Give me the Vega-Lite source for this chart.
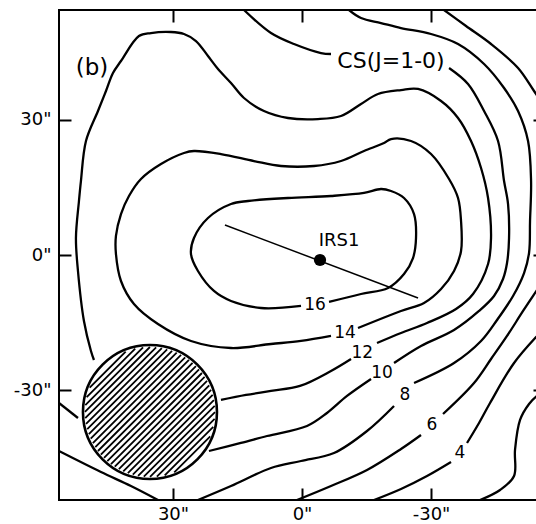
{
"$schema":"https://vega.github.io/schema/vega-lite/v6.json",
"width":486,"height":490,
"padding":{"left":13,"top":9,"right":0,"bottom":0},
"config":{"view":{"stroke":"black","strokeWidth":2},"axis":{"domain":false,"grid":false,"ticks":true,"tickColor":"black","tickWidth":2,"tickSize":-12,"labelFont":"DejaVu Sans","labelFontSize":18,"labelColor":"black"}},
"datasets":{
"contours":[
{"seg":"c12a","x":48.37,"y":-23.31},{"seg":"c12a","x":49.07,"y":-21.31},{"seg":"c12a","x":50.70,"y":-14.65},{"seg":"c12a","x":52.09,"y":-3.55},{"seg":"c12a","x":52.56,"y":3.77},{"seg":"c12a","x":51.86,"y":11.99},{"seg":"c12a","x":51.40,"y":16.43},{"seg":"c12a","x":50.23,"y":25.31},{"seg":"c12a","x":47.44,"y":31.97},{"seg":"c12a","x":45.58,"y":36.41},{"seg":"c12a","x":43.95,"y":40.41},{"seg":"c12a","x":42.09,"y":43.07},{"seg":"c12a","x":37.91,"y":48.62},{"seg":"c12a","x":35.12,"y":49.29},{"seg":"c12a","x":30.47,"y":49.51},{"seg":"c12a","x":27.44,"y":49.07},{"seg":"c12a","x":24.65,"y":47.51},{"seg":"c12a","x":21.86,"y":44.18},{"seg":"c12a","x":19.53,"y":41.30},{"seg":"c12a","x":16.51,"y":38.19},{"seg":"c12a","x":13.49,"y":34.86},{"seg":"c12a","x":8.84,"y":31.97},{"seg":"c12a","x":3.26,"y":30.42},{"seg":"c12a","x":-3.72,"y":30.19},{"seg":"c12a","x":-9.07,"y":30.86},{"seg":"c12a","x":-13.72,"y":33.52},{"seg":"c12a","x":-17.67,"y":35.75},{"seg":"c12a","x":-23.02,"y":36.63},{"seg":"c12a","x":-26.98,"y":36.86},{"seg":"c12a","x":-32.33,"y":34.19},{"seg":"c12a","x":-36.28,"y":30.42},{"seg":"c12a","x":-39.30,"y":25.31},{"seg":"c12a","x":-41.63,"y":19.32},{"seg":"c12a","x":-43.26,"y":12.66},{"seg":"c12a","x":-43.95,"y":3.77},{"seg":"c12a","x":-43.26,"y":-2.00},{"seg":"c12a","x":-39.77,"y":-8.66},{"seg":"c12a","x":-35.81,"y":-11.99},{"seg":"c12a","x":-29.07,"y":-15.10},{"seg":"c12a","x":-23.02,"y":-17.32},{"seg":"c12a","x":-17.44,"y":-19.54},
{"seg":"c12b","x":-11.40,"y":-23.09},{"seg":"c12b","x":-6.74,"y":-25.75},{"seg":"c12b","x":0.47,"y":-29.08},{"seg":"c12b","x":7.21,"y":-30.19},{"seg":"c12b","x":13.02,"y":-31.08},{"seg":"c12b","x":18.84,"y":-32.19},
{"seg":"c14","x":-13.02,"y":-16.21},{"seg":"c14","x":-23.02,"y":-12.43},{"seg":"c14","x":-28.37,"y":-10.66},{"seg":"c14","x":-32.33,"y":-7.55},{"seg":"c14","x":-35.35,"y":-3.55},{"seg":"c14","x":-36.98,"y":0.89},{"seg":"c14","x":-36.98,"y":7.55},{"seg":"c14","x":-36.28,"y":12.66},{"seg":"c14","x":-34.19,"y":16.87},{"seg":"c14","x":-30.00,"y":22.42},{"seg":"c14","x":-25.35,"y":25.31},{"seg":"c14","x":-20.70,"y":25.75},{"seg":"c14","x":-19.07,"y":24.87},{"seg":"c14","x":-14.42,"y":23.09},{"seg":"c14","x":-9.07,"y":20.87},{"seg":"c14","x":-2.79,"y":19.76},{"seg":"c14","x":4.88,"y":19.76},{"seg":"c14","x":11.16,"y":20.87},{"seg":"c14","x":18.84,"y":22.42},{"seg":"c14","x":25.12,"y":23.09},{"seg":"c14","x":27.44,"y":22.65},{"seg":"c14","x":32.79,"y":20.20},{"seg":"c14","x":37.44,"y":16.87},{"seg":"c14","x":40.23,"y":13.10},{"seg":"c14","x":42.09,"y":9.10},{"seg":"c14","x":43.26,"y":4.22},{"seg":"c14","x":43.26,"y":0.22},{"seg":"c14","x":42.09,"y":-5.77},{"seg":"c14","x":39.07,"y":-10.88},{"seg":"c14","x":33.49,"y":-15.32},{"seg":"c14","x":25.81,"y":-19.09},{"seg":"c14","x":16.51,"y":-20.65},{"seg":"c14","x":7.21,"y":-19.76},{"seg":"c14","x":0.23,"y":-19.09},{"seg":"c14","x":-6.74,"y":-17.98},
{"seg":"c16","x":-6.28,"y":-10.43},{"seg":"c16","x":-13.72,"y":-8.66},{"seg":"c16","x":-20.00,"y":-7.33},{"seg":"c16","x":-23.72,"y":-4.22},{"seg":"c16","x":-25.81,"y":-0.67},{"seg":"c16","x":-26.51,"y":3.77},{"seg":"c16","x":-26.05,"y":9.10},{"seg":"c16","x":-23.72,"y":12.66},{"seg":"c16","x":-20.70,"y":14.21},{"seg":"c16","x":-18.37,"y":14.65},{"seg":"c16","x":-14.42,"y":13.77},{"seg":"c16","x":-6.74,"y":13.10},{"seg":"c16","x":3.26,"y":12.66},{"seg":"c16","x":12.56,"y":11.99},{"seg":"c16","x":16.51,"y":11.32},{"seg":"c16","x":21.86,"y":8.21},{"seg":"c16","x":25.12,"y":3.77},{"seg":"c16","x":25.81,"y":0.22},{"seg":"c16","x":24.19,"y":-3.55},{"seg":"c16","x":20.47,"y":-7.99},{"seg":"c16","x":16.51,"y":-10.21},{"seg":"c16","x":9.53,"y":-11.77},{"seg":"c16","x":0.23,"y":-11.32},
{"seg":"c10a","x":56.51,"y":-32.86},{"seg":"c10a","x":52.09,"y":-36.19},
{"seg":"c10b","x":21.63,"y":-43.52},{"seg":"c10b","x":14.19,"y":-41.74},{"seg":"c10b","x":8.14,"y":-40.19},{"seg":"c10b","x":-1.16,"y":-37.97},{"seg":"c10b","x":-5.81,"y":-35.08},{"seg":"c10b","x":-10.47,"y":-31.30},{"seg":"c10b","x":-16.05,"y":-27.53},
{"seg":"c10c","x":-21.40,"y":-23.98},{"seg":"c10c","x":-27.67,"y":-20.20},{"seg":"c10c","x":-35.35,"y":-16.65},{"seg":"c10c","x":-41.16,"y":-12.43},{"seg":"c10c","x":-44.65,"y":-9.10},{"seg":"c10c","x":-46.74,"y":-5.33},{"seg":"c10c","x":-47.67,"y":-1.78},{"seg":"c10c","x":-48.14,"y":3.77},{"seg":"c10c","x":-47.91,"y":11.32},{"seg":"c10c","x":-46.98,"y":16.43},{"seg":"c10c","x":-45.58,"y":25.31},{"seg":"c10c","x":-42.33,"y":31.97},{"seg":"c10c","x":-38.60,"y":37.97},{"seg":"c10c","x":-34.19,"y":41.52},
{"seg":"c10d","x":-6.74,"y":44.63},{"seg":"c10d","x":-4.42,"y":44.85},{"seg":"c10d","x":1.86,"y":46.85},{"seg":"c10d","x":7.21,"y":49.29},{"seg":"c10d","x":13.49,"y":54.4},
{"seg":"c8a","x":56.51,"y":-43.52},{"seg":"c8a","x":46.74,"y":-48.18},{"seg":"c8a","x":39.77,"y":-51.29},{"seg":"c8a","x":33.49,"y":-54.4},
{"seg":"c8b","x":24.19,"y":-54.4},{"seg":"c8b","x":16.51,"y":-51.29},{"seg":"c8b","x":7.21,"y":-47.29},{"seg":"c8b","x":0.23,"y":-45.74},{"seg":"c8b","x":-7.44,"y":-43.96},{"seg":"c8b","x":-15.12,"y":-39.08},{"seg":"c8b","x":-21.40,"y":-33.52},
{"seg":"c8c","x":-26.05,"y":-28.42},{"seg":"c8c","x":-35.35,"y":-23.98},{"seg":"c8c","x":-41.63,"y":-19.09},{"seg":"c8c","x":-45.35,"y":-14.43},{"seg":"c8c","x":-49.07,"y":-9.10},{"seg":"c8c","x":-51.63,"y":-4.00},{"seg":"c8c","x":-52.79,"y":0.44},{"seg":"c8c","x":-53.02,"y":7.55},{"seg":"c8c","x":-53.26,"y":16.43},{"seg":"c8c","x":-52.56,"y":25.31},{"seg":"c8c","x":-50.23,"y":31.97},{"seg":"c8c","x":-46.98,"y":37.08},{"seg":"c8c","x":-42.33,"y":42.41},{"seg":"c8c","x":-36.28,"y":46.85},{"seg":"c8c","x":-30.00,"y":49.07},{"seg":"c8c","x":-23.02,"y":50.40},{"seg":"c8c","x":-18.37,"y":51.51},{"seg":"c8c","x":-13.72,"y":52.62},{"seg":"c8c","x":-10.93,"y":54.4},
{"seg":"c6a","x":1.16,"y":-54.4},{"seg":"c6a","x":-6.74,"y":-51.29},{"seg":"c6a","x":-15.12,"y":-47.73},{"seg":"c6a","x":-23.02,"y":-43.07},{"seg":"c6a","x":-27.67,"y":-39.96},
{"seg":"c6b","x":-32.79,"y":-35.30},{"seg":"c6b","x":-40.00,"y":-28.42},{"seg":"c6b","x":-43.95,"y":-23.09},{"seg":"c6b","x":-47.67,"y":-17.98},{"seg":"c6b","x":-51.40,"y":-12.43},{"seg":"c6b","x":-54.65,"y":-7.77},{"seg":"c6b","x":-56.51,"y":-5.11},
{"seg":"c6c","x":-33.02,"y":54.4},{"seg":"c6c","x":-38.14,"y":50.84},{"seg":"c6c","x":-43.95,"y":46.85},{"seg":"c6c","x":-50.23,"y":41.52},{"seg":"c6c","x":-53.95,"y":36.41},{"seg":"c6c","x":-56.51,"y":32.86},
{"seg":"c4a","x":-16.74,"y":-54.4},{"seg":"c4a","x":-23.02,"y":-51.95},{"seg":"c4a","x":-29.07,"y":-49.07},{"seg":"c4a","x":-34.65,"y":-45.96},
{"seg":"c4b","x":-38.37,"y":-41.74},{"seg":"c4b","x":-41.16,"y":-37.30},{"seg":"c4b","x":-43.72,"y":-32.86},{"seg":"c4b","x":-49.30,"y":-23.98},{"seg":"c4b","x":-54.65,"y":-17.98},{"seg":"c4b","x":-56.51,"y":-16.21},
{"seg":"c2","x":-41.40,"y":-54.4},{"seg":"c2","x":-46.05,"y":-52.17},{"seg":"c2","x":-49.30,"y":-49.07},{"seg":"c2","x":-49.53,"y":-43.29},{"seg":"c2","x":-50.70,"y":-36.63},{"seg":"c2","x":-52.79,"y":-33.08},{"seg":"c2","x":-54.65,"y":-31.30},{"seg":"c2","x":-56.51,"y":-30.19}
],
"hatch":[
{"x":29.70,"y":-48.25,"x2":21.33,"y2":-40.25},
{"x":31.92,"y":-48.91,"x2":20.63,"y2":-38.14},
{"x":33.74,"y":-49.21,"x2":20.32,"y2":-36.40},
{"x":35.34,"y":-49.29,"x2":20.23,"y2":-34.87},
{"x":36.78,"y":-49.23,"x2":20.30,"y2":-33.49},
{"x":38.11,"y":-49.05,"x2":20.49,"y2":-32.23},
{"x":39.34,"y":-48.78,"x2":20.77,"y2":-31.05},
{"x":40.49,"y":-48.43,"x2":21.13,"y2":-29.95},
{"x":41.56,"y":-48.02,"x2":21.57,"y2":-28.93},
{"x":42.58,"y":-47.54,"x2":22.07,"y2":-27.96},
{"x":43.53,"y":-47.00,"x2":22.64,"y2":-27.05},
{"x":44.42,"y":-46.41,"x2":23.26,"y2":-26.20},
{"x":45.26,"y":-45.76,"x2":23.93,"y2":-25.40},
{"x":46.04,"y":-45.07,"x2":24.66,"y2":-24.65},
{"x":46.77,"y":-44.32,"x2":25.44,"y2":-23.96},
{"x":47.44,"y":-43.52,"x2":26.28,"y2":-23.31},
{"x":48.06,"y":-42.67,"x2":27.17,"y2":-22.72},
{"x":48.63,"y":-41.76,"x2":28.12,"y2":-22.18},
{"x":49.13,"y":-40.79,"x2":29.14,"y2":-21.70},
{"x":49.57,"y":-39.77,"x2":30.21,"y2":-21.29},
{"x":49.93,"y":-38.67,"x2":31.36,"y2":-20.94},
{"x":50.21,"y":-37.49,"x2":32.59,"y2":-20.67},
{"x":50.40,"y":-36.23,"x2":33.92,"y2":-20.49},
{"x":50.47,"y":-34.85,"x2":35.36,"y2":-20.43},
{"x":50.38,"y":-33.32,"x2":36.96,"y2":-20.51},
{"x":50.07,"y":-31.58,"x2":38.78,"y2":-20.81},
{"x":49.37,"y":-29.47,"x2":41.00,"y2":-21.47}
],
"beam":[{"x":35.35,"y":-34.86}],
"irsline":[{"x":17.91,"y":6.66,"x2":-26.98,"y2":-9.55}],
"irs":[{"x":-4.19,"y":-1.11,"t":"IRS1","tx":-8.6,"ty":3.1}],
"nums":[{"t":"16","x":-3.02,"y":-11.10},{"t":"14","x":-10.00,"y":-17.32},{"t":"12","x":-14.0,"y":-21.7},{"t":"10","x":-18.60,"y":-26.20},{"t":"8","x":-23.95,"y":-31.08},{"t":"6","x":-30.23,"y":-37.74},{"t":"4","x":-36.74,"y":-43.96}],
"notes":[{"t":"CS(J=1-0)","x":-20.70,"y":43.07}],
"panel":[{"t":"(b)","x":48.84,"y":41.52}]
},
"layer":[
{"data":{"name":"contours"},"mark":{"type":"line","color":"black","strokeWidth":2.3,"interpolate":"catmull-rom","clip":true},
 "encoding":{
  "x":{"field":"x","type":"quantitative","scale":{"domain":[-56.5,56.5],"reverse":true,"nice":false,"zero":false},"axis":{"orient":"bottom","values":[-30,0,30],"labelExpr":"datum.value + '\"'","title":null,"labelPadding":17}},
  "y":{"field":"y","type":"quantitative","scale":{"domain":[-54.4,54.4],"nice":false,"zero":false},"axis":{"orient":"left","values":[-30,0,30],"labelExpr":"datum.value + '\"'","title":null,"labelPadding":20}},
  "detail":{"field":"seg"},"order":{"value":null}}},
{"data":{"name":"beam"},"mark":{"type":"point","shape":"circle","fill":"white","fillOpacity":1,"stroke":"black","strokeWidth":2.6,"opacity":1,"size":17956},
 "encoding":{
  "x":{"field":"x","type":"quantitative","scale":{"domain":[-56.5,56.5],"reverse":true,"nice":false,"zero":false},"axis":{"orient":"top","values":[-30,0,30],"labels":false,"title":null}},
  "y":{"field":"y","type":"quantitative","scale":{"domain":[-54.4,54.4],"nice":false,"zero":false},"axis":{"orient":"right","values":[-30,0,30],"labels":false,"title":null}}}},
{"data":{"name":"hatch"},"mark":{"type":"rule","color":"black","strokeWidth":1.8},
 "encoding":{
  "x":{"field":"x","type":"quantitative","axis":null},"y":{"field":"y","type":"quantitative","axis":null},
  "x2":{"field":"x2"},"y2":{"field":"y2"}}},
{"data":{"name":"irsline"},"mark":{"type":"rule","color":"black","strokeWidth":1.5},
 "encoding":{
  "x":{"field":"x","type":"quantitative","axis":null},"y":{"field":"y","type":"quantitative","axis":null},
  "x2":{"field":"x2"},"y2":{"field":"y2"}}},
{"data":{"name":"irs"},"mark":{"type":"point","shape":"circle","filled":true,"color":"black","opacity":1,"size":150},
 "encoding":{"x":{"field":"x","type":"quantitative","axis":null},"y":{"field":"y","type":"quantitative","axis":null}}},
{"data":{"name":"irs"},"mark":{"type":"text","font":"DejaVu Sans","fontSize":18,"color":"black","align":"center","baseline":"middle"},
 "encoding":{"x":{"field":"tx","type":"quantitative","axis":null},"y":{"field":"ty","type":"quantitative","axis":null},"text":{"field":"t"}}},
{"data":{"name":"nums"},"mark":{"type":"text","font":"DejaVu Sans","fontSize":17,"color":"black","align":"center","baseline":"middle"},
 "encoding":{"x":{"field":"x","type":"quantitative","axis":null},"y":{"field":"y","type":"quantitative","axis":null},"text":{"field":"t"}}},
{"data":{"name":"notes"},"mark":{"type":"text","font":"DejaVu Sans","fontSize":22,"color":"black","align":"center","baseline":"middle"},
 "encoding":{"x":{"field":"x","type":"quantitative","axis":null},"y":{"field":"y","type":"quantitative","axis":null},"text":{"field":"t"}}},
{"data":{"name":"panel"},"mark":{"type":"text","font":"DejaVu Sans","fontSize":23,"color":"black","align":"center","baseline":"middle"},
 "encoding":{"x":{"field":"x","type":"quantitative","axis":null},"y":{"field":"y","type":"quantitative","axis":null},"text":{"field":"t"}}}
],
"resolve":{"axis":{"x":"independent","y":"independent"}}
}
